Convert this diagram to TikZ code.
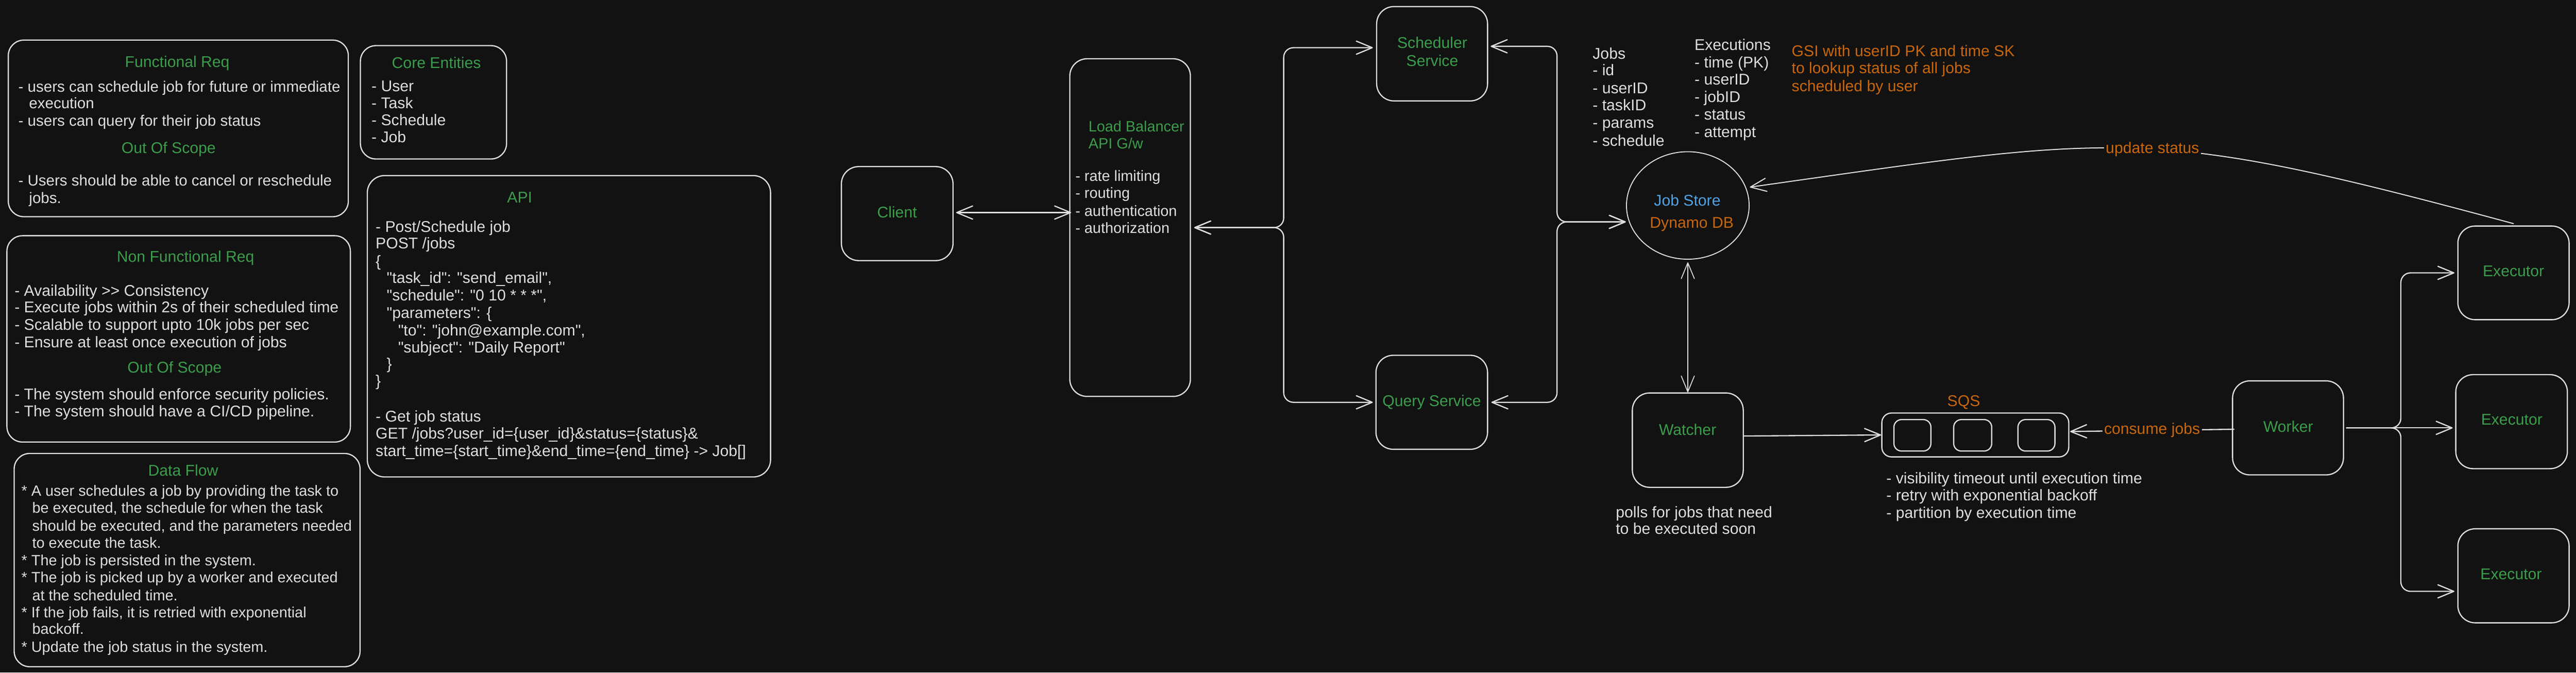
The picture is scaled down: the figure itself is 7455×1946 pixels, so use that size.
\documentclass[tikz,border=0pt]{standalone}
\usepackage{fontspec}
\setmainfont{Liberation Sans}
\usetikzlibrary{arrows.meta,shapes.geometric}
\definecolor{bg}{HTML}{121212}
\definecolor{stk}{HTML}{DEDEDE}
\definecolor{grn}{HTML}{3B9D4B}
\definecolor{org}{HTML}{C9660C}
\definecolor{blu}{HTML}{4FA3E6}
\newcommand\dq{\XeTeXglyph\XeTeXcharglyph"22\relax}
\newcommand\gtc{\XeTeXglyph\XeTeXcharglyph"3E\relax}
\newcommand\fsz{\fontsize{45}{50}\selectfont}
\newcommand\fsy{\fontsize{44}{50}\selectfont}
\newcommand\fsx{\fontsize{43}{50}\selectfont}
\newcommand\tline[4]{\node[txt] (#1) at (#2,#3) {#4};}
\newcommand\gtitle[4]{\node[ttl] (#1) at (#2,#3) {#4};}
\begin{document}
\begin{tikzpicture}[x=1pt,y=-1pt,
  >={Straight Barb[length=46pt,width=38pt,round]},
  box/.style={draw=stk, line width=3.5pt, rounded corners=50pt, inner sep=0pt, outer sep=0pt},
  conn/.style={draw=stk, line width=3.5pt, line cap=round, line join=round},
  txt/.style={text=stk, inner sep=0pt, anchor=base west, font=\fsz},
  ttl/.style={text=grn, inner sep=0pt, anchor=base, font=\fsz},
  lbl/.style={fill=bg, text=org, inner sep=5pt, font=\fsz}]
\fill[bg] (0,0) rectangle (7455,1946);
\useasboundingbox (0,0) rectangle (7455,1946);

% ---------------- Functional Req panel
\node[box, minimum width=984pt, minimum height=511pt, rounded corners=45pt] (fr) at (516,371.5) {};
\gtitle{frt}{513}{194}{Functional Req}
\begin{scope}[txt/.append style={font=\fsy}]
\tline{fr1}{53}{266}{- users can schedule job for future or immediate}
\tline{fr2}{84}{314}{execution}
\tline{fr3}{53}{365}{- users can query for their job status}
\tline{fr4}{53}{538}{- Users should be able to cancel or reschedule}
\tline{fr5}{84}{588}{jobs.}
\end{scope}
\gtitle{fro}{488}{444}{Out Of Scope}

% ---------------- Core Entities
\node[box, minimum width=423pt, minimum height=328pt, rounded corners=45pt] (ce) at (1254.5,296) {};
\gtitle{cet}{1263}{197}{Core Entities}
\tline{ce1}{1075}{264}{- User}
\tline{ce2}{1075}{314}{- Task}
\tline{ce3}{1075}{363}{- Schedule}
\tline{ce4}{1075}{413}{- Job}

% ---------------- Non Functional Req
\node[box, minimum width=994pt, minimum height=597pt, rounded corners=45pt] (nfr) at (517,980.5) {};
\gtitle{nfrt}{537}{758}{Non Functional Req}
\tline{nf1}{42}{856}{- Availability \gtc\gtc\ Consistency}
\tline{nf2}{42}{905}{- Execute jobs within 2s of their scheduled time}
\tline{nf3}{42}{955}{- Scalable to support upto 10k jobs per sec}
\tline{nf4}{42}{1005}{- Ensure at least once execution of jobs}
\gtitle{nfro}{505}{1079}{Out Of Scope}
\tline{nf5}{42}{1157}{- The system should enforce security policies.}
\tline{nf6}{42}{1206}{- The system should have a CI/CD pipeline.}

% ---------------- Data Flow
\node[box, minimum width=1001pt, minimum height=617pt, rounded corners=45pt] (df) at (541.5,1620.5) {};
\gtitle{dft}{530}{1377}{Data Flow}
\begin{scope}[txt/.append style={font=\fsx}]
\tline{df1}{62}{1435}{* A user schedules a job by providing the task to}
\tline{df2}{93}{1484}{be executed, the schedule for when the task}
\tline{df3}{93}{1536}{should be executed, and the parameters needed}
\tline{df4}{93}{1586}{to execute the task.}
\tline{df5}{62}{1636}{* The job is persisted in the system.}
\tline{df6}{62}{1685}{* The job is picked up by a worker and executed}
\tline{df7}{93}{1737}{at the scheduled time.}
\tline{df8}{62}{1787}{* If the job fails, it is retried with exponential}
\tline{df9}{93}{1835}{backoff.}
\tline{df10}{62}{1887}{* Update the job status in the system.}
\end{scope}

% ---------------- API
\node[box, minimum width=1167pt, minimum height=872pt] (api) at (1646.5,944) {};
\gtitle{apit}{1504}{586}{API}
\tline{ap1}{1087}{671}{- Post/Schedule job}
\tline{ap2}{1087}{720}{POST /jobs}
\tline{ap3}{1087}{771}{\{}
\tline{ap4}{1119}{819}{\dq task\_id\dq: \dq send\_email\dq,}
\tline{ap5}{1119}{870}{\dq schedule\dq: \dq 0 10 * * *\dq,}
\tline{ap6}{1119}{920}{\dq parameters\dq: \{}
\tline{ap7}{1152}{971}{\dq to\dq: \dq john@example.com\dq,}
\tline{ap8}{1152}{1020}{\dq subject\dq: \dq Daily Report\dq}
\tline{ap9}{1119}{1069}{\}}
\tline{ap10}{1087}{1118}{\}}
\tline{ap11}{1087}{1220}{- Get job status}
\tline{ap12}{1087}{1270}{GET /jobs?user\_id=\{user\_id\}\&status=\{status\}\&}
\tline{ap13}{1087}{1320}{start\_time=\{start\_time\}\&end\_time=\{end\_time\} -\gtc\ Job[]}

% ---------------- Architecture nodes
\node[box, minimum width=323pt, minimum height=272pt] (client) at (2596.5,618) {};
\gtitle{clientl}{2596}{630}{Client}

\node[box, minimum width=349pt, minimum height=977pt] (lb) at (3270.5,658.5) {};
\begin{scope}[txt/.append style={font=\fsx}]
\node[txt, text=grn] (lbt1) at (3150,381) {Load Balancer};
\node[txt, text=grn] (lbt2) at (3150,430) {API G/w};
\tline{lb1}{3112}{524}{- rate limiting}
\tline{lb2}{3112}{573}{- routing}
\tline{lb3}{3112}{625}{- authentication}
\tline{lb4}{3112}{674}{- authorization}
\end{scope}

\node[box, minimum width=321pt, minimum height=273pt] (sched) at (4144.5,155.5) {};
\gtitle{schedl1}{4145}{140}{Scheduler}
\gtitle{schedl2}{4145}{191}{Service}

\node[box, minimum width=323pt, minimum height=272pt] (qs) at (4143.5,1164) {};
\gtitle{qsl}{4143.5}{1176}{Query Service}

\node[draw=stk, line width=2.8pt, ellipse, minimum width=355pt, minimum height=311pt, inner sep=0pt, outer sep=0pt] (js) at (4884.5,594.5) {};
\node[ttl, text=blu] (jsl1) at (4883,596) {Job Store};
\node[ttl, text=org] (jsl2) at (4896,660) {Dynamo DB};

\tline{jb0}{4609}{171}{Jobs}
\tline{jb1}{4609}{219}{- id}
\tline{jb2}{4609}{270}{- userID}
\tline{jb3}{4609}{320}{- taskID}
\tline{jb4}{4609}{371}{- params}
\tline{jb5}{4609}{422}{- schedule}
\tline{ex0}{4904}{146}{Executions}
\tline{exa}{4904}{196}{- time (PK)}
\tline{exb}{4904}{246}{- userID}
\tline{exc}{4904}{296}{- jobID}
\tline{exd}{4904}{347}{- status}
\tline{exe}{4904}{397}{- attempt}
\node[txt, text=org] (gsi1) at (5185,163) {GSI with userID PK and time SK};
\node[txt, text=org] (gsi2) at (5185,213) {to lookup status of all jobs};
\node[txt, text=org] (gsi3) at (5185,264) {scheduled by user};

\node[box, minimum width=321pt, minimum height=273pt] (watcher) at (4884.5,1273.5) {};
\gtitle{watcherl}{4884}{1259}{Watcher}
\tline{wn1}{4676}{1497}{polls for jobs that need}
\tline{wn2}{4676}{1546}{to be executed soon}

\node[box, minimum width=541pt, minimum height=127pt, rounded corners=28pt] (sqs) at (5716.5,1258.5) {};
\node[box, minimum width=107pt, minimum height=91pt, rounded corners=22pt] (q1) at (5534.5,1259.5) {};
\node[box, minimum width=110pt, minimum height=91pt, rounded corners=22pt] (q2) at (5709,1259.5) {};
\node[box, minimum width=107pt, minimum height=91pt, rounded corners=22pt] (q3) at (5893.5,1259.5) {};
\node[ttl, text=org] (sqsl) at (5683,1176) {SQS};
\tline{sn1}{5459}{1400}{- visibility timeout until execution time}
\tline{sn2}{5459}{1449}{- retry with exponential backoff}
\tline{sn3}{5459}{1499}{- partition by execution time}

\node[box, minimum width=321pt, minimum height=272pt] (worker) at (6621.5,1238) {};
\gtitle{workerl}{6622}{1250}{Worker}

\node[box, minimum width=322pt, minimum height=271pt] (ex1) at (7274,789.5) {};
\gtitle{ex1l}{7274}{800}{Executor}
\node[box, minimum width=323pt, minimum height=272pt] (ex2) at (7268.5,1220) {};
\gtitle{ex2l}{7269}{1230}{Executor}
\node[box, minimum width=322pt, minimum height=272pt] (ex3) at (7274,1666) {};
\gtitle{ex3l}{7267}{1677}{Executor}

% ---------------- Connectors
\coordinate (fk1) at (3715,658.5);
\coordinate (fk2) at (4506,642);
\coordinate (fk3) at (6948,1238);
\coordinate (cin) at (client.east -| lb.west);
\coordinate (e2in) at (worker.east -| ex2.west);

\draw[conn,<->] ([xshift=9pt,yshift=3pt]client.east) -- ([xshift=4pt,yshift=3pt]cin);
\draw[conn,<->,rounded corners=28pt] ([xshift=11pt]lb.east) -- (fk1) |- ([xshift=-11pt,yshift=17.5pt]sched.west);
\draw[conn,<->,rounded corners=28pt] ([xshift=11pt]lb.east) -- (fk1) |- ([xshift=-9pt]qs.west);
\draw[conn,<->,rounded corners=28pt] ([xshift=9pt,yshift=21.5pt]sched.east) -| (fk2) -- ([xshift=-2pt,yshift=-47.5pt]js.west);
\draw[conn,<->,rounded corners=28pt] ([xshift=11pt]qs.east) -| (fk2) -- ([xshift=-2pt,yshift=-47.5pt]js.west);
\draw[conn,<->,line width=2.5pt] ([yshift=-9pt]js.south) -- ([yshift=2pt]watcher.north);
\draw[conn,->] ([yshift=12pt]watcher.east) -- ([xshift=-2pt]sqs.west);
\draw[conn,->] ([xshift=4pt,yshift=-4pt]worker.west) -- ([xshift=4pt,yshift=10pt]sqs.east)
  node[lbl, pos=0.5] (cj) {consume jobs};
\draw[conn,->,rounded corners=28pt] ([xshift=9pt]worker.east) -- (fk3) |- ([xshift=-10pt]ex1.west);
\draw[conn,->] ([xshift=9pt]worker.east) -- ([xshift=-9pt]e2in);
\draw[conn,->,rounded corners=28pt] ([xshift=9pt]worker.east) -- (fk3) |- ([xshift=-10pt,yshift=-45pt]ex3.west);
\draw[conn,->,line width=3pt] ([yshift=7pt]ex1.north) .. controls (6211,360) and (6151,388) .. ([xshift=2pt,yshift=53pt]js.east)
  node[lbl, pos=0.47] (us) {update status};
\end{tikzpicture}
\end{document}
